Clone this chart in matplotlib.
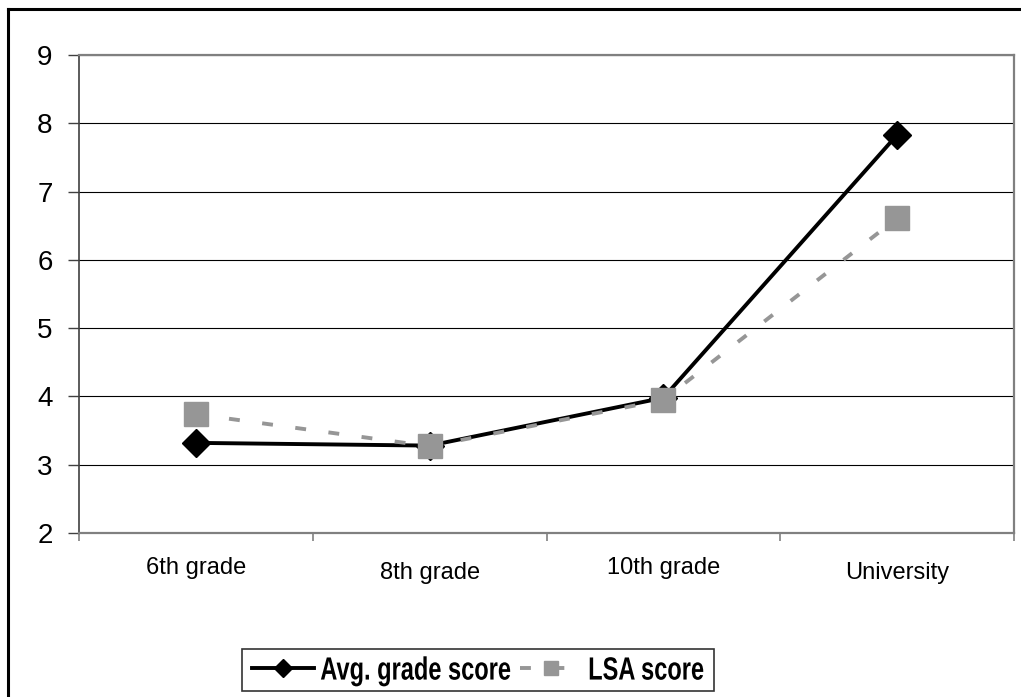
import matplotlib
matplotlib.use("Agg")
import matplotlib.pyplot as plt
from matplotlib.lines import Line2D
from matplotlib.patheffects import AbstractPathEffect
from matplotlib.transforms import Affine2D, ScaledTranslation

categories = ["6th grade", "8th grade", "10th grade", "University"]
avg_grade = [3.32, 3.28, 3.98, 7.83]
lsa_score = [3.74, 3.27, 3.95, 6.61]
y_ticks = [2, 3, 4, 5, 6, 7, 8, 9]

plt.rcParams["font.family"] = ["Liberation Sans", "DejaVu Sans"]


class VStretch(AbstractPathEffect):
    """Stretch glyphs vertically around the middle of the cap height."""

    def __init__(self, factor, center=36):
        super().__init__()
        self.factor = factor
        self.center = center

    def draw_path(self, renderer, gc, tpath, affine, rgbFace=None):
        pre = (Affine2D().translate(0, -self.center)
               .scale(1, self.factor).translate(0, self.center))
        renderer.draw_path(gc, tpath, pre + affine, rgbFace)


W, H = 1021, 697
fig = plt.figure(figsize=(W / 100, H / 100), dpi=100)
ax = fig.add_axes([79 / W, 1 - 533 / H, (1014 - 79) / W, (533 - 55) / H])

x = list(range(len(categories)))
ax.plot(x, avg_grade, color="black", lw=2.8, marker="D", markersize=14,
        markeredgecolor="black", label="Avg. grade score", zorder=3)
ax.plot(x, lsa_score, color="#969696", lw=2.8, dashes=(2.8, 5.8), marker="s",
        markersize=17, markeredgecolor="#969696", label="LSA score", zorder=4)

ax.set_xlim(-0.5, len(categories) - 0.5)
ax.set_ylim(2, 9)
ax.set_yticks(y_ticks)
ax.yaxis.grid(True, color="black", lw=0.8)
ax.set_axisbelow(True)

ax.tick_params(axis="y", direction="out", length=8, width=1, color="#404040",
               pad=11, labelsize=20)
ax.set_xticks(x)
ax.set_xticklabels(categories, fontsize=17)
ax.set_xticks([i - 0.5 for i in range(len(categories) + 1)], minor=True)
ax.tick_params(axis="x", which="major", length=0, pad=17)
ax.tick_params(axis="x", which="minor", direction="out", length=6, width=1.2,
               color="#808080")

# every other category label sits a little lower
for i, lab in enumerate(ax.get_xticklabels()):
    if i % 2 == 1:
        lab.set_transform(lab.get_transform() +
                          ScaledTranslation(0, -5 / 100, fig.dpi_scale_trans))

for side in ["top", "right", "bottom"]:
    ax.spines[side].set_color("#808080")
    ax.spines[side].set_linewidth(1.6)
ax.spines["left"].set_color("#404040")
ax.spines["left"].set_linewidth(1.2)

leg = fig.legend(loc="center", bbox_to_anchor=(478 / W, 1 - 670 / H),
                 ncol=2, frameon=True, fancybox=False, markerscale=0.62,
                 handlelength=2.65, handletextpad=0.25, columnspacing=0.35,
                 borderpad=0.42, borderaxespad=0,
                 prop={"weight": "bold", "size": 17})
leg.get_frame().set_edgecolor("black")
leg.get_frame().set_linewidth(1.2)
for t in leg.get_texts():
    t.set_path_effects([VStretch(1.36)])

# outer chart border (left and top edges)
fig.add_artist(Line2D([8 / W, 8 / W], [0, 1 - 9 / H], color="black", lw=2.2,
                      transform=fig.transFigure))
fig.add_artist(Line2D([8 / W, 1], [1 - 9 / H, 1 - 9 / H], color="black", lw=2.2,
                      transform=fig.transFigure))

fig.savefig("out.png", dpi=100)
